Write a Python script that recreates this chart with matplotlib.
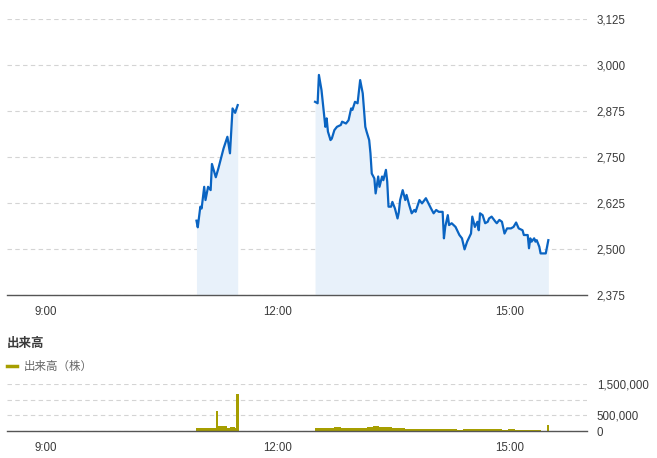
import matplotlib.pyplot as plt

plt.rcParams['font.family'] = ['Liberation Sans', 'Noto Sans CJK JP', 'DejaVu Sans']

# price, morning session (time, yen)
am_times = ['10:57', '10:58', '11:00', '11:01', '11:03', '11:04', '11:06', '11:08',
            '11:09', '11:12', '11:14', '11:18', '11:21', '11:23', '11:25', '11:27', '11:29']
am_prices = [2577, 2559, 2615, 2610, 2669, 2633, 2669, 2660,
             2731, 2695, 2719, 2773, 2805, 2760, 2882, 2870, 2891]

# price, afternoon session
pm_times = ['12:29', '12:31', '12:32', '12:34', '12:37', '12:38', '12:39', '12:41', '12:42', '12:44',
            '12:46', '12:49', '12:50', '12:53', '12:55', '12:57', '12:58', '13:00', '13:02', '13:04',
            '13:06', '13:07', '13:08', '13:09', '13:11', '13:12', '13:13', '13:15', '13:16', '13:18',
            '13:19', '13:21', '13:22', '13:24', '13:25', '13:26', '13:28', '13:29', '13:31', '13:33',
            '13:34', '13:35', '13:37', '13:39', '13:40', '13:42', '13:44', '13:46', '13:47', '13:50',
            '13:52', '13:55', '13:57', '13:59', '14:01', '14:03', '14:05', '14:08', '14:09', '14:10',
            '14:12', '14:13', '14:15', '14:18', '14:21', '14:23', '14:25', '14:27', '14:30', '14:31',
            '14:33', '14:35', '14:36', '14:37', '14:39', '14:41', '14:43', '14:44', '14:46', '14:49',
            '14:50', '14:52', '14:54', '14:56', '14:58', '15:01', '15:03', '15:05', '15:07', '15:10',
            '15:11', '15:14', '15:15', '15:16', '15:17', '15:19', '15:20', '15:21', '15:23', '15:24',
            '15:28', '15:30']
pm_prices = [2900, 2896, 2973, 2932, 2832, 2855, 2819, 2796, 2800, 2823,
             2832, 2837, 2846, 2841, 2850, 2882, 2878, 2900, 2896, 2959,
             2923, 2878, 2832, 2819, 2796, 2760, 2705, 2692, 2651, 2697,
             2669, 2697, 2687, 2715, 2683, 2615, 2615, 2628, 2610, 2583,
             2600, 2633, 2660, 2633, 2647, 2620, 2597, 2606, 2601, 2633,
             2624, 2638, 2624, 2610, 2597, 2606, 2601, 2601, 2529, 2560,
             2592, 2565, 2570, 2560, 2538, 2529, 2499, 2520, 2542, 2588,
             2560, 2574, 2551, 2597, 2592, 2570, 2574, 2583, 2588, 2574,
             2570, 2579, 2574, 2542, 2556, 2556, 2560, 2572, 2556, 2551,
             2538, 2538, 2502, 2529, 2520, 2529, 2520, 2524, 2506, 2488,
             2488, 2524]

# volume (shares), morning 2-minute blocks
am_vol_times = ['10:57', '10:59', '11:01', '11:03', '11:05', '11:07', '11:09', '11:11', '11:13',
                '11:15', '11:17', '11:19', '11:21', '11:23', '11:25', '11:27']
am_vols = [85000, 85000, 85000, 85000, 85000, 85000, 85000, 85000, 155000,
           160000, 150000, 150000, 110000, 140000, 140000, 100000]

# volume, afternoon 5-minute blocks
pm_vol_times = ['12:29', '12:34', '12:39', '12:44', '12:49', '12:54', '12:59', '13:04', '13:09',
                '13:14', '13:19', '13:24', '13:29', '13:34', '13:39', '13:44', '13:49', '13:54',
                '13:59', '14:04', '14:09', '14:14', '14:19', '14:24', '14:29', '14:34', '14:39',
                '14:44', '14:49', '14:54', '14:59', '15:04', '15:09', '15:14', '15:19']
pm_vols = [80000, 90000, 100000, 130000, 110000, 100000, 110000, 100000, 120000,
           150000, 140000, 130000, 110000, 95000, 70000, 60000, 55000, 55000,
           50000, 50000, 55000, 50000, 45000, 50000, 60000, 55000, 50000,
           50000, 55000, 45000, 50000, 45000, 45000, 40000, 40000]

# single-minute spikes
spike_times = ['11:12', '11:28', '15:29']
spike_vols = [650000, 1180000, 190000]

price_ticks = [2375, 2500, 2625, 2750, 2875, 3000, 3125]
vol_ticks = [0, 500000, 1000000, 1500000]
vol_labels = ['0', '500,000', '', '1,500,000']
hour_ticks = [9, 12, 15]
hour_labels = ['9:00', '12:00', '15:00']


def to_h(s):
    h, m = s.split(':')
    return int(h) + int(m) / 60


line_c = '#0a64c2'
fill_c = '#e8f1fa'
vol_c = '#a69e00'
grid_c = '#d4d4d4'
text_c = '#3a3a3a'

fig = plt.figure(figsize=(6.57, 4.58), dpi=100)
ax = fig.add_axes([7 / 657, 1 - 295 / 458, 580 / 657, 276 / 458])
ax2 = fig.add_axes([7 / 657, 1 - 431 / 458, 580 / 657, 47 / 458])

for t, p in [(am_times, am_prices), (pm_times, pm_prices)]:
    th = [to_h(s) for s in t]
    ax.fill_between(th, p, 2375, color=fill_c, linewidth=0)
    ax.plot(th, p, color=line_c, linewidth=1.6, solid_joinstyle='round')

ax.set_ylim(2375, 3125)
ax.set_yticks(price_ticks)
ax.set_yticklabels([f'{v:,}' for v in price_ticks])

ax2.bar([to_h(s) for s in am_vol_times], am_vols, width=2 / 60, align='edge',
        color=vol_c, linewidth=0)
ax2.bar([to_h(s) for s in pm_vol_times], pm_vols, width=5 / 60, align='edge',
        color=vol_c, linewidth=0)
ax2.bar([to_h(s) for s in spike_times], spike_vols, width=1.8 / 60, align='edge',
        color=vol_c, linewidth=0)
ax2.set_ylim(0, 1500000)
ax2.set_yticks(vol_ticks)
ax2.set_yticklabels(vol_labels)

for a in (ax, ax2):
    a.set_xlim(8.5, 16.0)
    a.set_xticks(hour_ticks)
    a.set_xticklabels(hour_labels)
    a.yaxis.tick_right()
    for s in ('top', 'left', 'right'):
        a.spines[s].set_visible(False)
    a.spines['bottom'].set_color('#555555')
    a.spines['bottom'].set_linewidth(1.0)
    a.tick_params(length=0, labelsize=8.3, colors=text_c)
    a.tick_params(axis='y', pad=7)
    a.tick_params(axis='x', pad=8)
    a.grid(axis='y', color=grid_c, linestyle=(0, (4, 3)), linewidth=0.8)
    a.set_axisbelow(True)
    a.set_facecolor('none')

fig.text(7 / 657, 1 - 343 / 458, '出来高', fontsize=9, fontweight='bold',
         color=text_c, va='center', ha='left', family=['Noto Sans CJK JP'])
fig.lines.append(plt.Line2D([7 / 657, 17 / 657], [1 - 366 / 458, 1 - 366 / 458],
                            color=vol_c, linewidth=2.5, transform=fig.transFigure))
fig.text(24 / 657, 1 - 366 / 458, '出来高（株）', fontsize=8.3, color='#666666',
         va='center', ha='left', family=['Noto Sans CJK JP'])

fig.savefig('out.png', dpi=100)
